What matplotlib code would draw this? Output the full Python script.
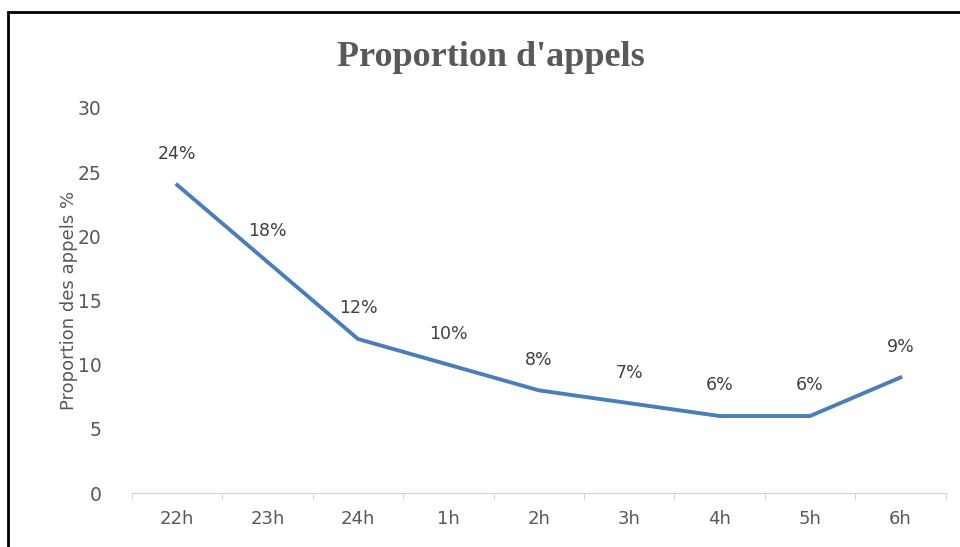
import matplotlib.pyplot as plt
from matplotlib.patches import Rectangle

hours = ['22h', '23h', '24h', '1h', '2h', '3h', '4h', '5h', '6h']
share = [24, 18, 12, 10, 8, 7, 6, 6, 9]
labels = ['24%', '18%', '12%', '10%', '8%', '7%', '6%', '6%', '9%']

grey = '#595959'
fig = plt.figure(figsize=(9.6, 5.47), dpi=100)
ax = fig.add_axes([0.1375, 0.0987, 0.8475, 0.7039])

x = list(range(len(hours)))
ax.plot(x, share, color='#4A7EBB', lw=2.8, solid_joinstyle='miter')
for xi, yi, t in zip(x, share, labels):
    ax.annotate(t, (xi, yi), xytext=(0, 22), textcoords='offset points',
                ha='center', va='center', fontsize=12.5, color='#404040')

ax.set_xlim(-0.5, len(hours) - 0.5)
ax.set_ylim(0, 30)
ax.set_yticks(range(0, 31, 5))
ax.set_xticks(x)
ax.set_xticklabels(hours)
ax.set_xticks([i - 0.5 for i in range(len(hours) + 1)], minor=True)
ax.tick_params(axis='x', which='major', length=0, pad=12, labelsize=13, labelcolor=grey)
ax.tick_params(axis='x', which='minor', length=5, color='#d0d0d0', direction='out')
ax.tick_params(axis='y', length=0, pad=22, labelsize=13.5, labelcolor=grey)
for s in ['top', 'right', 'left']:
    ax.spines[s].set_visible(False)
ax.spines['bottom'].set_color('#d0d0d0')
ax.set_ylabel('Proportion des appels %', fontsize=13, color=grey, labelpad=0)

fig.text(0.511, 0.895, "Proportion d'appels", ha='center', va='center',
         fontsize=26, fontweight='bold', family='Liberation Serif', color=grey)

fig.patches.append(Rectangle((8 / 960, -0.05), 1.2, 1 - 12 / 547 + 0.05,
                             transform=fig.transFigure, fill=False,
                             edgecolor='black', lw=2))

fig.savefig('out.png')
